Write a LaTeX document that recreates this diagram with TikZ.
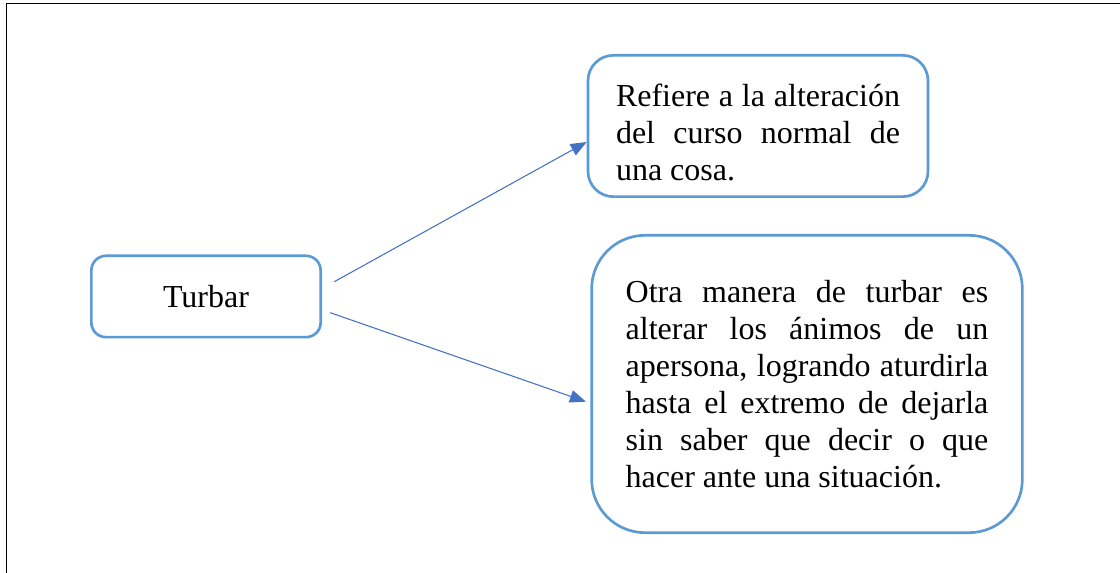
\documentclass[tikz,border=0pt]{standalone}
\usepackage{fontspec}
\setmainfont{Liberation Serif}
\usetikzlibrary{positioning, arrows.meta}
\definecolor{boxblue}{HTML}{5B9BD5}
\definecolor{lineblue}{HTML}{4472C4}

\begin{document}
\begin{tikzpicture}[x=0.75pt, y=-0.75pt,
    box/.style={draw=boxblue, line width=2pt, fill=white, inner sep=0pt,
        font=\fontsize{24}{27.75}\selectfont},
    link/.style={draw=lineblue, line width=0.8pt,
        -{Triangle[length=12pt, width=9.5pt]}}]
    \useasboundingbox (0,0) rectangle (1120,573);

    % frame
    \draw[line width=1.1pt] (6.5,573) -- (6.5,3.5) -- (1120,3.5);

    \node[box, rounded corners=11pt, minimum width=172pt, minimum height=61pt]
        (turbar) at (206,296.5) {Turbar};

    \node[box, rounded corners=19pt, minimum width=255pt, minimum height=106pt,
        text width=213pt, align=justify]
        (refiere) at (758,126)
        {\rule{0pt}{27pt}Refiere a la alteración\linebreak del curso normal de\linebreak una cosa.};

    \node[box, rounded corners=40pt, minimum width=323pt, minimum height=223pt,
        text width=272pt, align=justify]
        (otra) at (807,384)
        {Otra manera de turbar es\linebreak alterar los ánimos de un\linebreak
         apersona, logrando aturdirla\linebreak hasta el extremo de dejarla\linebreak
         sin saber que decir o que\linebreak hacer ante una situación.};

    \draw[link, shorten <=10.5pt] ([yshift=6pt]turbar.east) -- ([yshift=-12pt]refiere.west);
    \draw[link, shorten <=6.6pt, shorten >=3.5pt] ([yshift=-10pt]turbar.east) -- ([yshift=-14.4pt]otra.west);

\end{tikzpicture}
\end{document}
